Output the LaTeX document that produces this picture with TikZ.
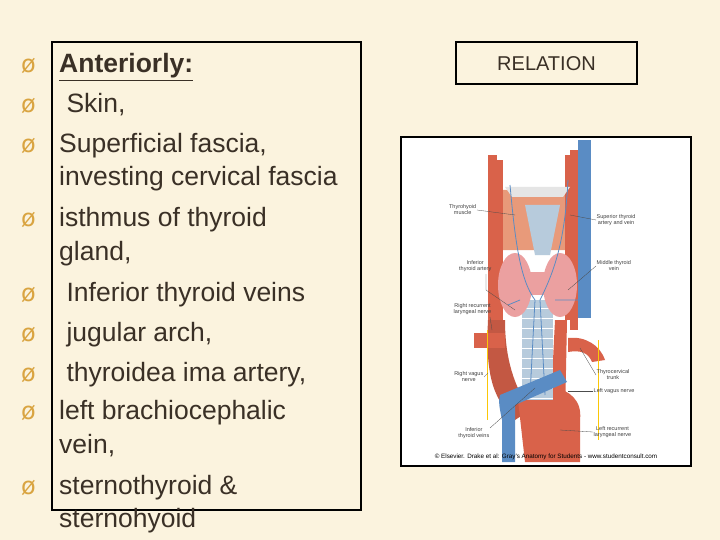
\documentclass[tikz,border=0pt]{standalone}
\usepackage{fontspec}
\setmainfont{Liberation Sans}
\newfontfamily\djv{DejaVu Sans}
\definecolor{bg}{HTML}{FBF3DE}
\definecolor{bul}{HTML}{D9A441}
\definecolor{txt}{HTML}{3A3026}
\definecolor{art}{HTML}{D9624A}
\definecolor{vein}{HTML}{5A8CC4}
\definecolor{musc}{HTML}{E89A7A}
\definecolor{thy}{HTML}{EBA0A0}
\definecolor{trach}{HTML}{B7CBDC}
\tikzset{
 line/.style={anchor=base west,font=\fontsize{26.5}{26.5}\selectfont,text=txt,inner sep=0},
 bull/.style={anchor=base west,font=\djv\fontsize{24}{24}\selectfont,text=bul,inner sep=0},
 lab/.style={font=\fontsize{5.5}{6}\selectfont,text=black!75,inner sep=0.5pt,align=center},
 lead/.style={draw=black!70,line width=0.3pt}
}
\begin{document}
\begin{tikzpicture}[x=1pt,y=-1pt]
\fill[bg] (0,0) rectangle (720,540);
\useasboundingbox (0,0) rectangle (720,540);
\draw[line width=2.5pt,black] (52,42) rectangle (361,510);
% bullets and text
\foreach \y in {73,113,153,226,301,341,381,419,494}{\node[bull] at (21,\y) {ø};}
\node[line] (t1) at (59,73) {\underline{\textbf{Anteriorly:}}};
\node[line] (t2) at (59,113) {\ Skin,};
\node[line] (t3) at (59,153) {Superficial fascia,};
\node[line] (t4) at (59,186) {investing cervical fascia};
\node[line] (t5) at (59,226) {isthmus of thyroid};
\node[line] (t6) at (59,260) {gland,};
\node[line] (t7) at (59,301) {\ Inferior thyroid veins};
\node[line] (t8) at (59,341) {\ jugular arch,};
\node[line] (t9) at (59,381) {\ thyroidea ima artery,};
\node[line] (t10) at (59,419) {left brachiocephalic};
\node[line] (t11) at (59,453) {vein,};
\node[line] (t12) at (59,494) {sternothyroid \&};
\node[line] (t13) at (59,527) {sternohyoid};
% relation
\draw[line width=2pt] (456,42) rectangle (637,84);
\node[font=\fontsize{20}{20}\selectfont,text=txt] (rel) at (546.5,64) {RELATION};
% image
\draw[line width=2pt,fill=white] (401,137) rectangle (691,466);
% anatomy
\fill[musc] (500,190) -- (575,190) -- (572,250) -- (503,250) -- cycle;
\fill[art] (488,155) rectangle (497,330);
\fill[art] (497,160) rectangle (503,330);
\fill[art] (570,150) rectangle (578,330);
\fill[art] (565,155) rectangle (570,320);
\fill[art!90!black] (488,320) .. controls (485,380) and (495,400) .. (515,420) -- (530,410) .. controls (510,380) and (505,350) .. (505,320) -- cycle;
\fill[art] (474,333) rectangle (505,348);
\fill[art] (568,338) .. controls (585,336) and (600,345) .. (605,360) -- (592,362) .. controls (588,352) and (580,350) .. (568,352) -- cycle;
\fill[art] (555,320) -- (567,320) -- (565,420) -- (550,420) -- cycle;
\fill[art] (518,400) .. controls (525,380) and (585,380) .. (580,420) -- (580,462) -- (525,462) -- cycle;
\fill[black!10] (505,187) -- (570,187) -- (563,197) -- (512,197) -- cycle;
\fill[trach] (525,205) -- (560,205) -- (550,255) -- (535,255) -- cycle;
\fill[trach] (522,300) rectangle (553,400);
\foreach \y in {308,318,...,398}{\draw[white,line width=1pt] (522,\y) -- (553,\y);}
\fill[thy] (515,285) ellipse (17 and 32);
\fill[thy] (560,285) ellipse (17 and 32);
\fill[thy] (525,272) rectangle (550,295);
\fill[vein] (578,140) rectangle (591,318);
\fill[vein] (500,395) -- (560,370) -- (567,382) -- (515,405) -- (515,462) -- (502,462) -- (502,420) .. controls (500,410) and (498,402) .. (500,395) -- cycle;
\draw[vein,line width=0.8pt] (510,185) .. controls (515,240) and (520,280) .. (535,300) (568,180) .. controls (565,240) and (555,270) .. (540,300) (535,300) -- (530,395) (540,300) -- (545,395) (520,300) -- (508,305) (555,300) -- (585,300);
\draw[yellow!60!orange,line width=0.5pt] (487,330) -- (487,420) (598,340) -- (598,440);
% labels
\node[lab,anchor=east] (l1) at (477,210) {Thyrohyoid\\muscle};
\draw[lead] (l1.east) -- (515,215);
\node[lab,anchor=west] (l2) at (596,220) {Superior thyroid\\artery and vein};
\draw[lead] (l2.west) -- (570,215);
\node[lab,anchor=west] (l3) at (596,266) {Middle thyroid\\vein};
\draw[lead] (l3.west) -- (568,290);
\node[lab,anchor=east] (l4) at (492,266) {Inferior\\thyroid artery};
\draw[lead] (486,274) -- (486,290) -- (515,310);
\node[lab,anchor=east] (l5) at (492,309) {Right recurrent\\laryngeal nerve};
\draw[lead] (490,317) -- (492,330);
\node[lab,anchor=east] (l6) at (484,377) {Right vagus\\nerve};
\draw[lead] (l6.east) -- (488,373);
\node[lab,anchor=west] (l7) at (596,375) {Thyrocervical\\trunk};
\draw[lead] (l7.west) -- (580,348);
\node[lab,anchor=west] (l8) at (593,391) {Left vagus nerve};
\draw[lead] (l8.west) -- (568,391);
\node[lab,anchor=east] (l9) at (490,433) {Inferior\\thyroid veins};
\draw[lead] (490,428) -- (535,388);
\node[lab,anchor=west] (l10) at (593,432) {Left recurrent\\laryngeal nerve};
\draw[lead] (l10.west) -- (560,430);
\node[font=\fontsize{6.3}{7}\selectfont,inner sep=0] (cp) at (546,457) {\textcopyright\ Elsevier. Drake et al: Gray's Anatomy for Students - www.studentconsult.com};
\end{tikzpicture}
\end{document}
